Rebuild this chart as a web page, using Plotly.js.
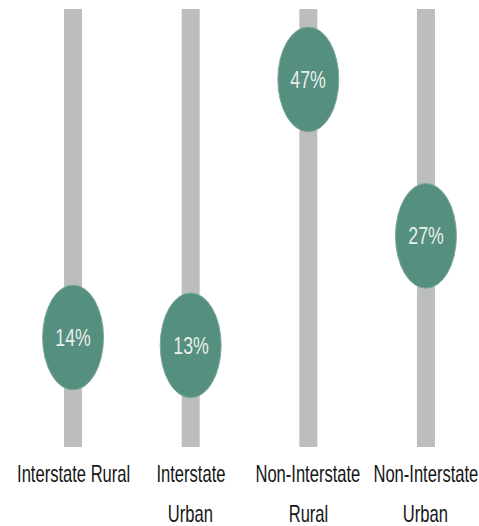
<!DOCTYPE html>
<html>
<head>
<meta charset="utf-8">
<script src="https://cdn.plot.ly/plotly-3.0.1.min.js"></script>
<style>html,body{margin:0;padding:0;background:#fff;}#chart{width:479px;height:526px;}</style>
</head>
<body>
<div id="chart"></div>
<script>
var categories = ["Interstate Rural", "Interstate<br>Urban", "Non-Interstate<br>Rural", "Non-Interstate<br>Urban"];
var values = [14, 13, 47, 27];
var valueLabels = ["14%", "13%", "47%", "27%"];
var trackMax = 56;

var xs = categories.map(function(c, i){ return i; });
var tracks = {
  type: 'bar', x: xs, y: categories.map(function(){ return trackMax; }),
  width: 0.153, marker: {color: '#bcbebd'}, hoverinfo: 'skip', showlegend: false
};

var rx = 0.259, ry = 6.7;
var shapes = values.map(function(v, i){
  return {type: 'circle', xref: 'x', yref: 'y', x0: i - rx, x1: i + rx, y0: v - ry, y1: v + ry,
    fillcolor: '#558f7f', line: {color: '#7fa99b', width: 1}, layer: 'above'};
});

var FONT = 'Liberation Sans, Arial, sans-serif';
var annotations = [];
values.forEach(function(v, i){
  annotations.push({x: i, y: v, xref: 'x', yref: 'y', text: valueLabels[i], showarrow: false,
    font: {family: FONT, size: 24, color: '#e9eeeb'}});
});
categories.forEach(function(c, i){
  var lines = c.split('<br>');
  lines.forEach(function(t, k){
    annotations.push({x: i, y: 0, xref: 'x', yref: 'y', text: t, showarrow: false,
      yanchor: 'middle', yshift: -27 - 40 * k,
      font: {family: FONT, size: 23, color: '#151515'}});
  });
});

var layout = {
  width: 479, height: 526,
  margin: {l: 26, r: 6, t: 9, b: 79},
  paper_bgcolor: '#ffffff', plot_bgcolor: '#ffffff',
  xaxis: {range: [-0.4, 3.4], showticklabels: false, showgrid: false, zeroline: false, showline: false, ticks: '', fixedrange: true},
  yaxis: {range: [0, trackMax], showticklabels: false, showgrid: false, zeroline: false, showline: false, ticks: '', fixedrange: true},
  shapes: shapes,
  annotations: annotations,
  showlegend: false
};

Plotly.newPlot('chart', [tracks], layout, {displayModeBar: false, staticPlot: true}).then(function(){
  document.querySelectorAll('.annotation-text').forEach(function(el){
    var isValue = valueLabels.indexOf(el.textContent) >= 0;
    el.style.transformBox = 'fill-box';
    el.style.transformOrigin = 'center';
    el.style.transform = isValue ? 'scaleX(0.74)' : 'scaleX(0.72)';
  });
});
</script>
</body>
</html>
